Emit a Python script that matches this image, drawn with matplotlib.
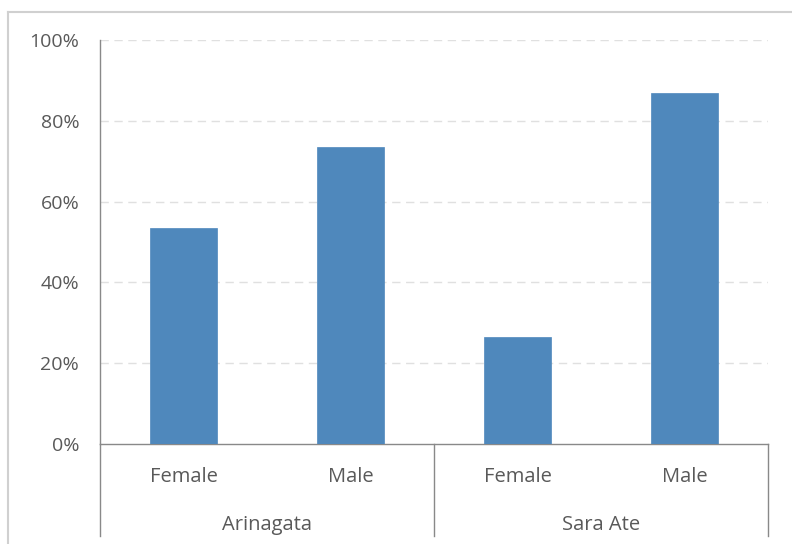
import matplotlib
matplotlib.use("Agg")
import matplotlib.pyplot as plt
from matplotlib.lines import Line2D
import matplotlib.transforms as mtransforms

# Data
groups = ["Arinagata", "Sara Ate"]
genders = ["Female", "Male"]
values = [0.535, 0.735, 0.265, 0.87]
yticks = [0, 0.2, 0.4, 0.6, 0.8, 1.0]
ytick_labels = ["0%", "20%", "40%", "60%", "80%", "100%"]

W, H = 792, 544
fig = plt.figure(figsize=(W / 100, H / 100), dpi=100)
fig.patch.set_facecolor("white")

font = "Open Sans"
text_color = "#595959"
line_color = "#898989"

# Chart-area border (top and left edges visible)
fig.add_artist(Line2D([8 / W, 8 / W], [0, 1 - 12 / H], transform=fig.transFigure,
                      color="#d0d0d0", lw=1.5))
fig.add_artist(Line2D([8 / W, 1], [1 - 12 / H, 1 - 12 / H], transform=fig.transFigure,
                      color="#d0d0d0", lw=1.5))

left, right, top, bottom = 100, 768, 40, 444
ax = fig.add_axes([left / W, 1 - bottom / H, (right - left) / W, (bottom - top) / H])

n = len(values)
x = list(range(n))
ax.bar(x, values, width=0.4, color="#4F88BC", edgecolor="#4F88BC", linewidth=0.5, zorder=3)

ax.set_xlim(-0.5, n - 0.5)
ax.set_ylim(0, 1.0)
ax.set_yticks(yticks)
ax.set_yticklabels(ytick_labels, fontsize=14, color=text_color, fontfamily=font)
ax.tick_params(axis="y", length=0, pad=15)
ax.set_xticks([])

for y in yticks[1:]:
    ax.axhline(y, color="#e0e0e0", lw=1, ls=(0, (6, 4)), zorder=1)

for s in ["top", "right"]:
    ax.spines[s].set_visible(False)
ax.spines["left"].set_color(line_color)
ax.spines["bottom"].set_color(line_color)
ax.spines["left"].set_linewidth(1)
ax.spines["bottom"].set_linewidth(1)

# Multi-level category axis
trans = mtransforms.blended_transform_factory(ax.transData, ax.transAxes)
px = 1.0 / (bottom - top)
for i in range(n):
    ax.text(x[i], -38 * px, genders[i % 2], transform=trans, ha="center", va="baseline",
            fontsize=14.5, color=text_color, fontfamily=font)
for g, name in enumerate(groups):
    ax.text(g * 2 + 0.5, -86 * px, name, transform=trans, ha="center", va="baseline",
            fontsize=14.5, color=text_color, fontfamily=font)
for xb in [-0.5, 1.5, 3.5]:
    ax.add_line(Line2D([xb, xb], [0, -92 * px], transform=trans, color=line_color,
                       lw=1, clip_on=False))

fig.savefig("out.png", dpi=100)
